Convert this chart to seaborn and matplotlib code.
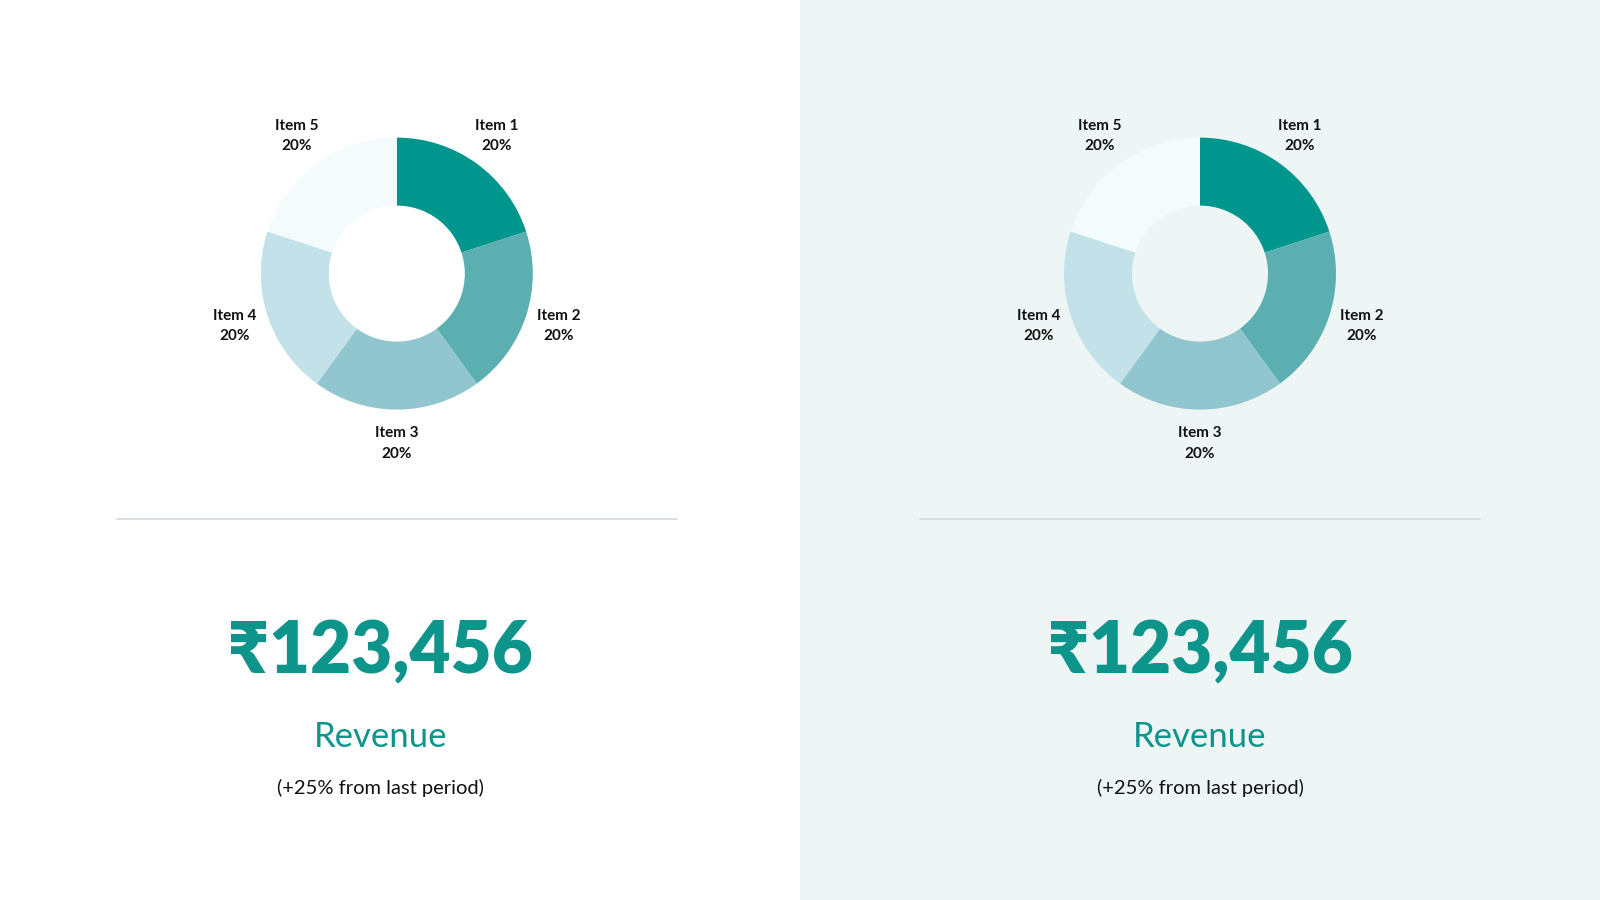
import matplotlib
matplotlib.use("Agg")
import matplotlib.pyplot as plt
import seaborn as sns
from matplotlib.patches import Rectangle
from matplotlib.lines import Line2D

# =========================================
# DATA
# =========================================

items = ["Item 1", "Item 2", "Item 3", "Item 4", "Item 5"]
shares = [20, 20, 20, 20, 20]
colors = ["#00968D", "#5BAFB0", "#92C6CF", "#C3E1E8", "#F3FBFD"]

big_value = "\u20b9123,456"
metric_name = "Revenue"
change_note = "(+25% from last period)"

# =========================================
# STYLE
# =========================================

sns.set_theme(style="white")
plt.rcParams["font.family"] = ["Lato", "Noto Sans", "DejaVu Sans"]

teal = "#0E958B"
panel_bg = "#EEF5F5"

fig = plt.figure(figsize=(16, 9), dpi=100)
fig.patch.set_facecolor("white")

# right half background
fig.patches.append(
    Rectangle((0.5, 0), 0.5, 1, transform=fig.transFigure,
              facecolor=panel_bg, edgecolor="none", zorder=-10)
)


def draw_panel(cx, text_x):

    # donut
    k = 1.6
    w = 2 * 136 * k / 1600
    h = 2 * 136 * k / 900
    ax = fig.add_axes([cx - w / 2, 0.696 - h / 2, w, h])
    ax.set_facecolor("none")
    ax.patch.set_alpha(0)

    labels = [f"{n}\n{s}%" for n, s in zip(items, shares)]

    ax.pie(
        shares,
        labels=labels,
        colors=colors,
        startangle=90,
        counterclock=False,
        radius=1,
        labeldistance=1.25,
        wedgeprops=dict(width=0.5, edgecolor="none"),
        textprops=dict(ha="center", va="center", fontsize=11,
                       fontweight="bold", color="#111111", linespacing=1.6),
    )

    ax.set_xlim(-k, k)
    ax.set_ylim(-k, k)
    ax.set_aspect("equal")
    ax.axis("off")

    # divider
    fig.add_artist(Line2D([cx - 0.175, cx + 0.175], [0.423, 0.423],
                          transform=fig.transFigure, color="#D3D8D8", lw=1.2))

    # kpi texts
    fig.text(text_x, 0.276, big_value, ha="center", va="center",
             fontsize=51, fontweight="heavy", color=teal,
             family=["Lato", "DejaVu Sans"])
    fig.text(text_x, 0.181, metric_name, ha="center", va="center",
             fontsize=25, color=teal)
    fig.text(text_x, 0.124, change_note, ha="center", va="center",
             fontsize=14.5, color="#111111")


draw_panel(0.248, 0.238)
draw_panel(0.75, 0.75)

plt.savefig("out.png", dpi=100, facecolor=fig.get_facecolor())
plt.close()
